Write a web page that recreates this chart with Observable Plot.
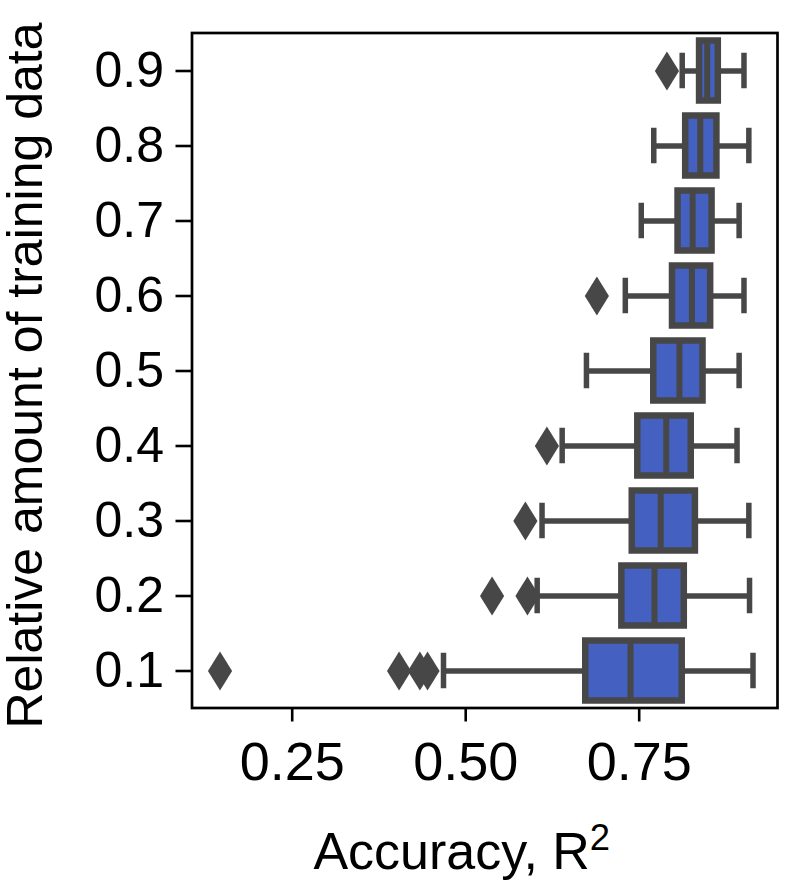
<!DOCTYPE html>
<html>
<head>
<meta charset="utf-8">
<script src="https://cdn.jsdelivr.net/npm/d3@7"></script>
<script src="https://cdn.jsdelivr.net/npm/@observablehq/plot@0.6"></script>
<style>
  html, body { margin: 0; padding: 0; background: #fff; }
  #chart svg g[aria-label$="axis tick"] path,
  #chart svg g[aria-label$="-axis"] line { stroke-width: 2.6px; }
  #chart svg g[aria-label="x-axis tick label"],
  #chart svg g[aria-label="x-axis"] { font-size: 54px; }
</style>
</head>
<body>
<div id="chart"></div>
<script>
// Categories (relative amount of training data), top to bottom
const categories = ["0.9", "0.8", "0.7", "0.6", "0.5", "0.4", "0.3", "0.2", "0.1"];
// Box statistics per category (same order)
const whiskerLow  = [0.812, 0.771, 0.753, 0.730, 0.674, 0.639, 0.610, 0.603, 0.468];
const q1          = [0.837, 0.817, 0.806, 0.798, 0.771, 0.748, 0.740, 0.725, 0.673];
const median      = [0.848, 0.838, 0.827, 0.826, 0.808, 0.789, 0.781, 0.772, 0.7375];
const q3          = [0.864, 0.862, 0.855, 0.853, 0.842, 0.825, 0.831, 0.815, 0.812];
const whiskerHigh = [0.901, 0.908, 0.894, 0.901, 0.894, 0.891, 0.908, 0.909, 0.914];
// Outliers
const outlierCats   = ["0.9", "0.6", "0.4", "0.3", "0.2", "0.2", "0.1", "0.1", "0.1", "0.1"];
const outlierValues = [0.790, 0.689, 0.617, 0.586, 0.538, 0.589, 0.146, 0.404, 0.434, 0.445];
// Axis ticks and labels
const xTicks = [0.25, 0.50, 0.75];
const xLabel = "Accuracy, R\u00B2";
const yLabel = "Relative amount of training data";

const boxes = categories.map((c, i) => ({
  cat: c, lo: whiskerLow[i], q1: q1[i], med: median[i], q3: q3[i], hi: whiskerHigh[i]
}));
const outliers = outlierCats.map((c, i) => ({cat: c, value: outlierValues[i]}));

const gray = "#474747";
const blue = "#4461c2";

const thinDiamond = {
  draw(context, size) {
    const r = Math.sqrt(size / Math.PI);
    const w = r * 0.62;
    context.moveTo(0, -r);
    context.lineTo(w, 0);
    context.lineTo(0, r);
    context.lineTo(-w, 0);
    context.closePath();
  }
};

const chart = Plot.plot({
  width: 787,
  height: 880,
  marginLeft: 191.5,
  marginRight: 10,
  marginTop: 32.5,
  marginBottom: 172.5,
  style: {fontSize: "50px", fontFamily: "'Liberation Sans', Arial, sans-serif", color: "black", background: "white"},
  x: {domain: [0.1056, 0.9493], ticks: xTicks, tickFormat: ".2f", tickSize: 14, tickPadding: 20, label: null},
  y: {domain: categories, padding: 0, tickSize: 16, tickPadding: 12, label: null},
  marks: [
    Plot.ruleY(boxes, {y: "cat", x1: "lo", x2: "hi", stroke: gray, strokeWidth: 5.5}),
    Plot.tickX(boxes, {y: "cat", x: "lo", stroke: gray, strokeWidth: 5.5, insetTop: 22.5, insetBottom: 22.5, strokeLinecap: "square"}),
    Plot.tickX(boxes, {y: "cat", x: "hi", stroke: gray, strokeWidth: 5.5, insetTop: 22.5, insetBottom: 22.5, strokeLinecap: "square"}),
    Plot.barX(boxes, {y: "cat", x1: "q1", x2: "q3", fill: blue, stroke: gray, strokeWidth: 6.5, insetTop: 7.5, insetBottom: 7.5}),
    Plot.tickX(boxes, {y: "cat", x: "med", stroke: gray, strokeWidth: 6, insetTop: 7.5, insetBottom: 7.5}),
    Plot.dot(outliers, {y: "cat", x: "value", symbol: thinDiamond, r: 19.5, fill: gray, stroke: "none"}),
    Plot.frame({stroke: "black", strokeWidth: 2.7}),
    Plot.text([xLabel], {text: d => d, frameAnchor: "bottom", dx: -23, dy: 144, fontSize: 52, fill: "black", lineAnchor: "middle"}),
    Plot.text([yLabel], {text: d => d, frameAnchor: "left", rotate: -90, dx: -166, dy: 5, fontSize: 50, fill: "black", lineAnchor: "middle", textAnchor: "middle"})
  ]
});

// Render the superscript "2" of the x label as a raised, smaller digit
chart.querySelectorAll("text").forEach(t => {
  if (t.textContent === xLabel) {
    t.textContent = "";
    const base = document.createElementNS("http://www.w3.org/2000/svg", "tspan");
    base.textContent = xLabel.slice(0, -1);
    const sup = document.createElementNS("http://www.w3.org/2000/svg", "tspan");
    sup.textContent = "2";
    sup.setAttribute("font-size", "70%");
    sup.setAttribute("dy", "-0.5em");
    t.appendChild(base);
    t.appendChild(sup);
  }
});
document.getElementById("chart").appendChild(chart);
</script>
</body>
</html>
